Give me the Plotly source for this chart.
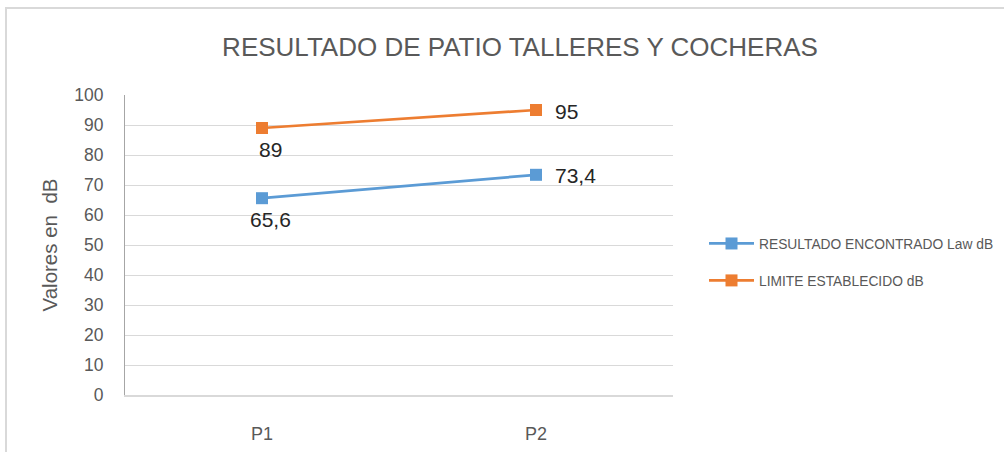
import plotly.graph_objects as go

categories = ["P1", "P2"]
resultado = [65.6, 73.4]
limite = [89, 95]
y_ticks = [0, 10, 20, 30, 40, 50, 60, 70, 80, 90, 100]

FONT = "Liberation Sans"
GRAY = "#595959"
LABEL = "#262626"

def fmt(v):
    return f"{v:g}".replace(".", ",")

fig = go.Figure()
series = [
    ("RESULTADO ENCONTRADO Law dB", resultado, "#5b9bd5", "a"),
    ("LIMITE ESTABLECIDO dB", limite, "#ed7d31", "b"),
]
annotations = []
for name, vals, color, grp in series:
    fig.add_trace(go.Scatter(
        x=categories, y=vals, name=name, mode="lines+markers",
        line=dict(color=color, width=2.75),
        marker=dict(symbol="square", size=12, color=color),
        legendgroup=grp, hoverinfo="x+y",
    ))
    # P1 label below, P2 label to the right
    annotations.append(dict(x=categories[0], y=vals[0], xref="x", yref="y",
                            text=fmt(vals[0]), showarrow=False,
                            xanchor="center", yanchor="middle",
                            xshift=8, yshift=-21,
                            font=dict(size=21, color=LABEL, family=FONT)))
    annotations.append(dict(x=categories[1], y=vals[1], xref="x", yref="y",
                            text=fmt(vals[1]), showarrow=False,
                            xanchor="left", yanchor="middle",
                            xshift=17, yshift=-1,
                            font=dict(size=21, color=LABEL, family=FONT)))

L, R, T, B = 125, 331, 95, 57
W, H = 1004, 452
pw, ph = W - L - R, H - T - B

fig.update_layout(
    width=W, height=H,
    margin=dict(l=L, r=R, t=T, b=B, pad=0, autoexpand=False),
    paper_bgcolor="white", plot_bgcolor="white",
    font=dict(family=FONT, color=GRAY),
    title=dict(text="RESULTADO DE PATIO TALLERES Y COCHERAS",
               x=520 / W, xanchor="center", y=1 - 47 / H, yanchor="middle",
               font=dict(size=26, color=GRAY, family=FONT)),
    showlegend=True,
    legend=dict(xref="container", yref="container",
                x=704 / W, xanchor="left", y=1 - 262 / H, yanchor="middle",
                font=dict(size=13.8, color=GRAY, family=FONT),
                traceorder="grouped", tracegroupgap=16, itemwidth=45,
                bgcolor="rgba(0,0,0,0)"),
    xaxis=dict(type="category", range=[-0.5, 1.5], showgrid=False,
               showline=True, linecolor="#d9d9d9", linewidth=1.5,
               ticks="", tickfont=dict(size=18, color=GRAY),
               ticklabelstandoff=22, fixedrange=True, automargin=False),
    yaxis=dict(range=[0, 100], tickvals=y_ticks, showgrid=True,
               gridcolor="#d9d9d9", gridwidth=1, zeroline=False,
               showline=True, linecolor="#a6a6a6", linewidth=1,
               ticks="", tickfont=dict(size=17.5, color=GRAY),
               ticklabelstandoff=17, fixedrange=True, automargin=False,
               title=dict(text="Valores en  dB", font=dict(size=20.5, color=GRAY),
                          standoff=11)),
    annotations=annotations,
    shapes=[dict(type="rect", xref="paper", yref="paper",
                 x0=(6 - L) / pw, x1=(1012 - L) / pw,
                 y0=-(470 - (H - B)) / ph, y1=1 + (T - 8) / ph,
                 line=dict(color="#d9d9d9", width=2), fillcolor="rgba(0,0,0,0)",
                 layer="below")],
)

fig.write_html("out.html", config={"displayModeBar": False},
               post_script="document.body.style.margin='0';document.body.style.overflow='hidden';")
